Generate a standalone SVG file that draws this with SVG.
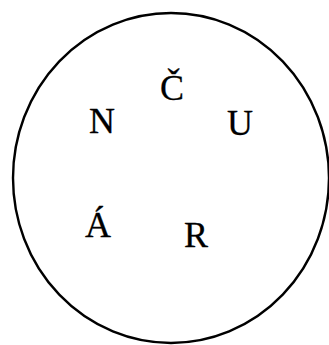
<svg xmlns="http://www.w3.org/2000/svg" width="329" height="345" viewBox="0 0 329 345">
<style>
.l{font-family:"Liberation Serif","Times New Roman",serif;font-size:36px;fill:#000;text-anchor:middle;stroke:#000;stroke-width:0.3}
</style>
<rect width="329" height="345" fill="#fff"/>
<g id="circle"><ellipse cx="171" cy="178" rx="158" ry="165" fill="none" stroke="#000" stroke-width="2.4"/></g>
<g id="connectors"></g>
<g id="n1"><text class="l" x="102" y="133">N</text></g>
<g id="n2"><text class="l" x="172" y="100">Č</text></g>
<g id="n3"><text class="l" x="240" y="135">U</text></g>
<g id="n4"><text class="l" x="98" y="237">Á</text></g>
<g id="n5"><text class="l" x="196" y="247">R</text></g>
</svg>
